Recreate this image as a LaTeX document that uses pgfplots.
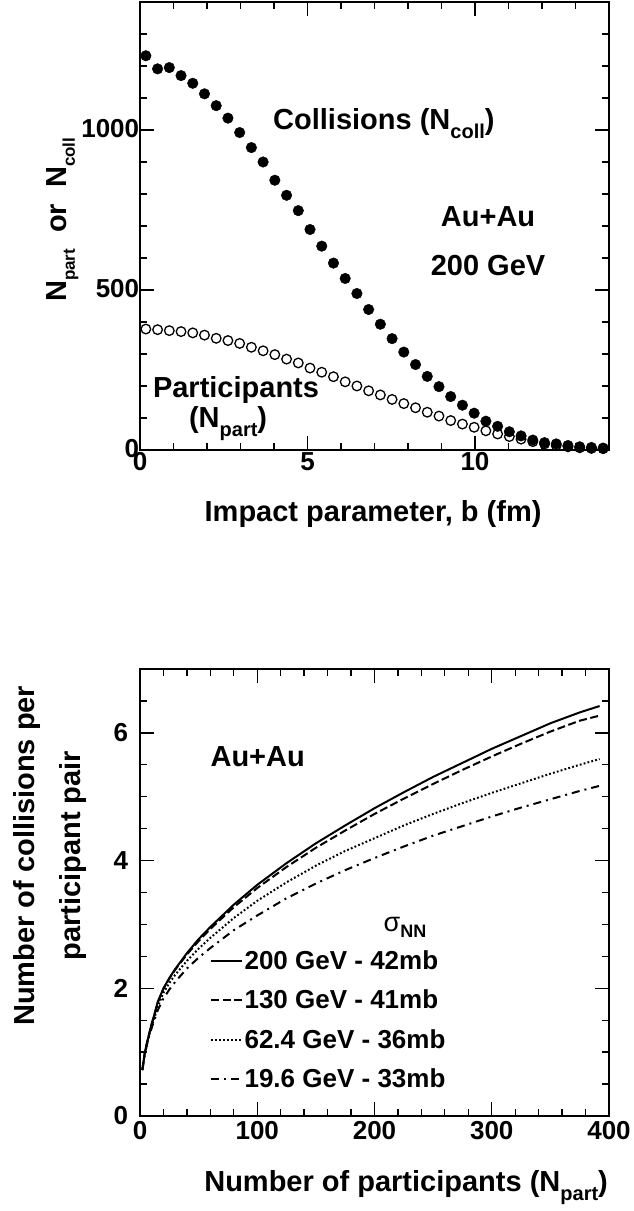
\documentclass[border=0pt]{standalone}
\usepackage{pgfplots}
\usepackage{pgfplotstable}
\pgfplotsset{compat=1.18}
\usepackage{fontspec}
\setmainfont{Liberation Sans}
\newcommand{\fs}[1]{\fontsize{#1}{#1}\selectfont}
\newcommand{\sub}[1]{\raisebox{-9pt}{\fs{20}#1}}
\newcommand{\subs}[1]{\raisebox{-8pt}{\fs{17}#1}}

\pgfplotstableread{
b N
0.175 1232
0.525 1191
0.875 1195
1.225 1170
1.575 1146
1.925 1113
2.275 1076
2.625 1037
2.975 992
3.325 945
3.675 900
4.025 843
4.375 796
4.725 748
5.075 689
5.425 637
5.775 584
6.125 536
6.475 489
6.825 439
7.175 393
7.525 348
7.875 306
8.225 267
8.575 230
8.925 198
9.275 167
9.625 140
9.975 115
10.325 90
10.675 74
11.025 57
11.375 44
11.725 31
12.075 23
12.425 19
12.775 14
13.125 10
13.475 8
13.825 6
}\ncoll

\pgfplotstableread{
b N
0.175 378
0.525 376
0.875 373
1.225 370
1.575 366
1.925 359
2.275 349
2.625 342
2.975 333
3.325 321
3.675 310
4.025 298
4.375 284
4.725 272
5.075 256
5.425 243
5.775 229
6.125 213
6.475 200
6.825 185
7.175 172
7.525 158
7.875 145
8.225 132
8.575 118
8.925 106
9.275 92
9.625 81
9.975 71
10.325 60
10.675 50
11.025 42
11.375 34
11.725 26
12.075 19
12.425 14
12.775 10
13.125 7
13.475 5
13.825 4
}\npart

\pgfplotstableread{
n a b c d
2 0.72 0.72 0.72 0.72
4 0.98 0.98 0.97 0.96
6 1.15 1.15 1.13 1.12
8 1.30 1.30 1.28 1.26
10 1.45 1.44 1.41 1.38
12 1.57 1.56 1.52 1.49
15 1.78 1.77 1.70 1.65
20 2.00 1.99 1.93 1.84
25 2.16 2.15 2.08 1.98
30 2.30 2.29 2.21 2.10
40 2.55 2.53 2.43 2.31
50 2.77 2.74 2.62 2.48
60 2.96 2.93 2.79 2.63
80 3.31 3.27 3.10 2.91
100 3.62 3.57 3.37 3.14
125 3.96 3.90 3.66 3.41
150 4.27 4.20 3.92 3.64
175 4.55 4.47 4.15 3.85
200 4.82 4.73 4.35 4.04
225 5.07 4.97 4.55 4.22
250 5.31 5.20 4.73 4.39
275 5.53 5.42 4.90 4.54
300 5.75 5.63 5.06 4.69
325 5.95 5.83 5.21 4.83
350 6.15 6.02 5.36 4.96
375 6.32 6.19 5.50 5.09
392 6.42 6.27 5.59 5.17
}\ratio

\pgfplotsset{
  rootstyle/.style={
    scale only axis, width=469pt,
    tick align=inside, tick pos=both,
    major tick length=14pt, minor tick length=7pt,
    axis line style={line width=1.6pt},
    every tick/.style={line width=1.3pt, black},
    ticklabel style={font=\bfseries\fs{26}},
    /pgf/number format/assume math mode=true,
    /pgf/number format/1000 sep={},
    label style={font=\bfseries\fs{29}, inner sep=0pt},
  }
}

\begin{document}
\begin{tikzpicture}
\useasboundingbox (0,0) rectangle (633pt,1211pt);

% ---------------- top panel ----------------
\begin{axis}[rootstyle,
  at={(140pt,761pt)}, anchor=south west, height=448pt,
  xmin=0, xmax=14, ymin=0, ymax=1400,
  xtick={0,5,10}, ytick={0,500,1000},
  minor xtick={0,1,...,14}, minor ytick={0,100,...,1400},
  xticklabel style={yshift=0.7pt},
  yticklabel style={xshift=2.7pt, yshift=1pt},
  xlabel={Impact parameter, b (fm)},
  xlabel style={at={(axis description cs:0.497,-0.16)}, anchor=base},
  ylabel={N\subs{part}\hspace{16pt}or\hspace{16pt}N\subs{coll}},
  ylabel style={at={(axis description cs:-0.1557,0.514)}, anchor=base},
]
\addplot[only marks, mark=o, mark size=4.8pt, mark options={line width=1.3pt, black}] table[x=b,y=N] {\npart};
\addplot[only marks, mark=*, mark size=5.3pt, mark options={black, fill=black}] table[x=b,y=N] {\ncoll};
\node[font=\bfseries\fs{29}, anchor=base] at (axis cs:7.28,1003) {Collisions (N\sub{coll})};
\node[font=\bfseries\fs{29}, anchor=base] at (axis cs:10.39,697) {Au+Au};
\node[font=\bfseries\fs{29}, anchor=base] at (axis cs:10.39,546) {200 GeV};
\node[font=\bfseries\fs{29}, anchor=base] at (axis cs:2.866,165) {Participants};
\node[font=\bfseries\fs{29}, anchor=base] at (axis cs:2.63,71) {(N\sub{part})};
\end{axis}

% ---------------- bottom panel ----------------
\begin{axis}[rootstyle,
  at={(140pt,95pt)}, anchor=south west, height=447pt,
  xmin=0, xmax=400, ymin=0, ymax=7,
  xtick={0,100,200,300,400}, ytick={0,2,4,6},
  minor xtick={0,20,...,400}, minor ytick={0,0.5,...,7},
  xticklabel style={yshift=-2pt},
  yticklabel style={xshift=-8.3pt},
  xlabel={Number of participants (N\sub{part})},
  xlabel style={at={(axis description cs:0.998,-0.169)}, anchor=base east},
  ylabel={Number of collisions per\\[17pt]participant pair},
  ylabel style={align=center, at={(axis description cs:-0.2708,0.582)}, anchor=north},
  legend style={draw=none, fill=none, at={(axis description cs:0.149,0.3736)}, anchor=north west,
    font=\bfseries\fs{26}, inner sep=0pt, row sep=16pt,
    nodes={inner sep=1.5pt}, cells={anchor=west}},
  legend image code/.code={\draw[#1] (0pt,0pt) -- (31pt,0pt);},
]
\addplot[black, line width=2pt] table[x=n,y=a] {\ratio};
\addlegendentry{200 GeV - 42mb}
\addplot[black, line width=2pt, dash pattern=on 8pt off 3.5pt] table[x=n,y=b] {\ratio};
\addlegendentry{130 GeV - 41mb}
\addplot[black, line width=2pt, dash pattern=on 1.8pt off 2.2pt] table[x=n,y=c] {\ratio};
\addlegendentry{62.4 GeV - 36mb}
\addplot[black, line width=2pt, dash pattern=on 8pt off 5pt on 2pt off 5pt] table[x=n,y=d] {\ratio};
\addlegendentry{19.6 GeV - 33mb}
\node[font=\bfseries\fs{29}, anchor=base] at (axis cs:100.4,5.47) {Au+Au};
\node[anchor=base west, inner sep=0pt] at (axis cs:207.7,2.89) {{\fs{27}σ}\raisebox{-6pt}{\bfseries\fs{18}NN}};
\end{axis}
\end{tikzpicture}
\end{document}
